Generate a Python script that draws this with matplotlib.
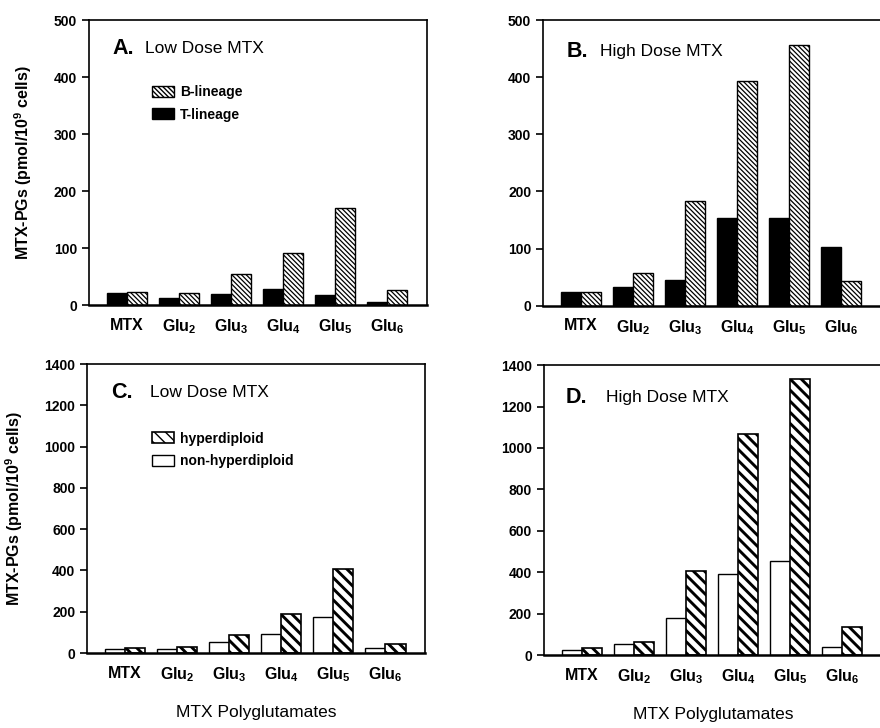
import matplotlib
matplotlib.use("Agg")
import matplotlib.pyplot as plt
import matplotlib.patches as mpatches
import numpy as np

plt.rcParams['font.family'] = ['Liberation Sans', 'DejaVu Sans']
plt.rcParams['mathtext.default'] = 'regular'

# categorias do eixo x
categorias = ['MTX', r'Glu$_2$', r'Glu$_3$', r'Glu$_4$', r'Glu$_5$', r'Glu$_6$']

# painel A / B: linhagem T e B
t_baixa = [21, 12, 19, 29, 17, 6]
b_baixa = [22, 21, 55, 92, 171, 27]
t_alta = [24, 32, 45, 153, 154, 102]
b_alta = [24, 57, 184, 393, 457, 43]

# painel C / D: hiperdiploide e nao hiperdiploide
nao_hiper_baixa = [20, 21, 53, 90, 174, 22]
hiper_baixa = [22, 27, 87, 190, 406, 45]
nao_hiper_alta = [24, 56, 180, 390, 456, 40]
hiper_alta = [37, 64, 404, 1066, 1334, 134]

fig = plt.figure(figsize=(8.8, 7.28), dpi=100)

largura = 0.385
x = np.arange(len(categorias))

# estilos: (propriedades do patch, espessura da hachura)
estilo_t = (dict(facecolor='black', edgecolor='black', linewidth=1), 1.0)
estilo_b = (dict(facecolor='white', edgecolor='black', linewidth=1, hatch='\\\\\\\\\\\\\\'), 0.9)
estilo_nao = (dict(facecolor='white', edgecolor='black', linewidth=1), 1.0)
estilo_hiper = (dict(facecolor='white', edgecolor='black', linewidth=1.2, hatch='\\\\\\'), 2.1)


def ajusta_hachura(patches, lw):
    for p in patches:
        if hasattr(p, 'set_hatch_linewidth'):
            p.set_hatch_linewidth(lw)


def barras(ax, pos, valores, estilo):
    props, lw = estilo
    with plt.rc_context({'hatch.linewidth': lw}):
        b = ax.bar(pos, valores, largura, **props)
    ajusta_hachura(b, lw)


def desenha_painel(ax, esq, dir, estilo_esq, estilo_dir, ymax, passo):
    barras(ax, x - largura / 2, esq, estilo_esq)
    barras(ax, x + largura / 2, dir, estilo_dir)
    ax.set_xlim(-0.73, 5.76)
    ax.set_ylim(0, ymax)
    ax.set_yticks(np.arange(0, ymax + 1, passo))
    ax.set_xticks(x)
    ax.set_xticklabels(categorias, fontsize=11.5, fontweight='bold')
    ax.tick_params(axis='x', length=0, pad=9)
    ax.tick_params(axis='y', direction='out', length=5, width=1.2, labelsize=10)
    for lab in ax.get_yticklabels():
        lab.set_fontweight('bold')
    for s in ax.spines.values():
        s.set_linewidth(1.2)
    ax.spines['bottom'].set_linewidth(1.8)


def titulo(ax, letra, texto, xl, xt, y):
    ax.text(xl, y, letra, transform=ax.transAxes, fontsize=15.5, fontweight='bold', va='center')
    ax.text(xt, y, texto, transform=ax.transAxes, fontsize=12.5, va='center')


def legenda(ax, itens, ancora, tamanho):
    handles = []
    for estilo, nome in itens:
        props, lw = estilo
        with plt.rc_context({'hatch.linewidth': lw}):
            p = mpatches.Patch(label=nome, **props)
        ajusta_hachura([p], lw)
        handles.append(p)
    ax.legend(handles=handles, loc='upper left', bbox_to_anchor=ancora, frameon=False,
              prop={'size': tamanho, 'weight': 'bold'}, handlelength=1.6, handleheight=0.85,
              handletextpad=0.45, labelspacing=0.6, borderpad=0)


ax_a = fig.add_axes([0.101, 0.581, 0.384, 0.3915])
ax_b = fig.add_axes([0.617, 0.580, 0.384, 0.3925])
ax_c = fig.add_axes([0.099, 0.103, 0.384, 0.397])
ax_d = fig.add_axes([0.618, 0.100, 0.384, 0.3985])

desenha_painel(ax_a, t_baixa, b_baixa, estilo_t, estilo_b, 500, 100)
desenha_painel(ax_b, t_alta, b_alta, estilo_t, estilo_b, 500, 100)
desenha_painel(ax_c, nao_hiper_baixa, hiper_baixa, estilo_nao, estilo_hiper, 1400, 200)
desenha_painel(ax_d, nao_hiper_alta, hiper_alta, estilo_nao, estilo_hiper, 1400, 200)

titulo(ax_a, 'A.', 'Low Dose MTX', 0.07, 0.166, 0.90)
titulo(ax_b, 'B.', 'High Dose MTX', 0.07, 0.168, 0.89)
titulo(ax_c, 'C.', 'Low Dose MTX', 0.07, 0.185, 0.90)
titulo(ax_d, 'D.', 'High Dose MTX', 0.065, 0.185, 0.89)

for ax in (ax_a, ax_c):
    ax.set_ylabel(r'MTX-PGs (pmol/10$^9$ cells)', fontsize=11.5, fontweight='bold', labelpad=14)

for ax in (ax_c, ax_d):
    ax.set_xlabel('MTX Polyglutamates', fontsize=12.5, labelpad=15)

legenda(ax_a, [(estilo_b, 'B-lineage'), (estilo_t, 'T-lineage')], (0.165, 0.795), 10)
legenda(ax_c, [(estilo_hiper, 'hyperdiploid'), (estilo_nao, 'non-hyperdiploid')], (0.17, 0.79), 10)

plt.savefig('out.png', dpi=100)
